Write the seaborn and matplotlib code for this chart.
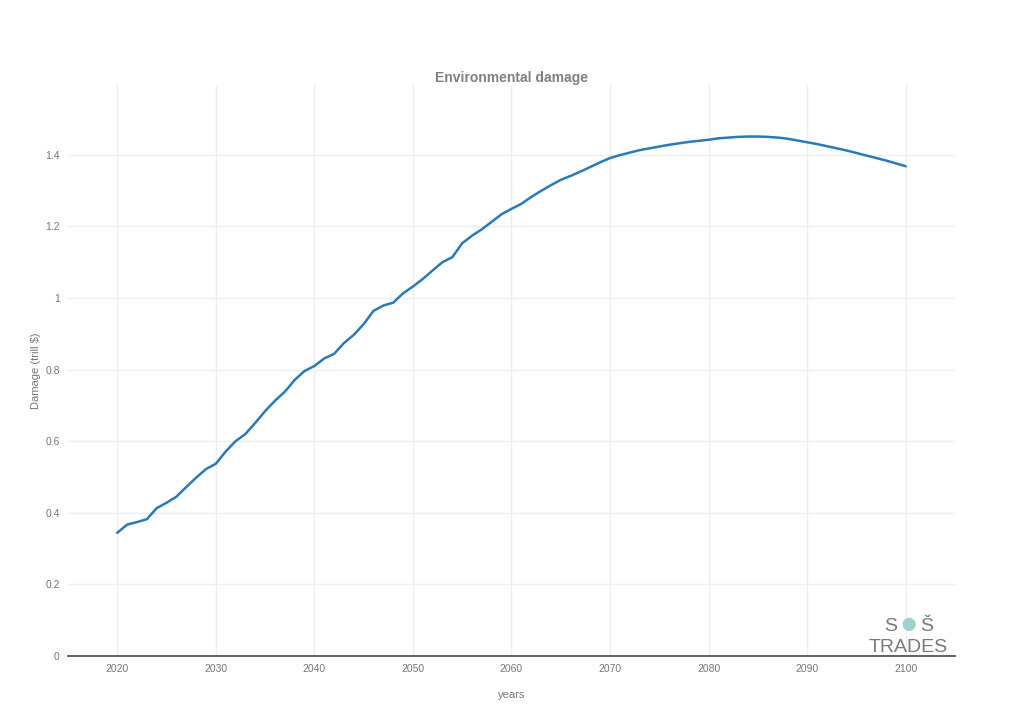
import pandas as pd
import matplotlib.pyplot as plt
import seaborn as sns

years = list(range(2020, 2101))
damage = [0.344, 0.367, 0.374, 0.382, 0.413, 0.428, 0.445, 0.472, 0.498, 0.522,
          0.537, 0.571, 0.600, 0.620, 0.651, 0.684, 0.713, 0.738, 0.771, 0.796,
          0.810, 0.831, 0.844, 0.874, 0.897, 0.927, 0.964, 0.979, 0.987, 1.013,
          1.032, 1.053, 1.077, 1.100, 1.114, 1.153, 1.174, 1.192, 1.213, 1.234,
          1.249, 1.263, 1.282, 1.299, 1.315, 1.330, 1.341, 1.353, 1.366, 1.379,
          1.391, 1.399, 1.406, 1.413, 1.418, 1.423, 1.428, 1.432, 1.436, 1.439,
          1.442, 1.446, 1.448, 1.450, 1.451, 1.451, 1.450, 1.448, 1.445, 1.440,
          1.435, 1.430, 1.424, 1.418, 1.412, 1.405, 1.398, 1.391, 1.384, 1.376,
          1.368]
xticks = list(range(2020, 2101, 10))
yticks = [0, 0.2, 0.4, 0.6, 0.8, 1.0, 1.2, 1.4]
ytick_labels = ['0', '0.2', '0.4', '0.6', '0.8', '1', '1.2', '1.4']

df = pd.DataFrame({'years': years, 'damage': damage})

sns.set_style('white')
plt.rcParams['font.family'] = ['Liberation Sans', 'DejaVu Sans']

fig = plt.figure(figsize=(10.24, 7.25), dpi=100)
ax = fig.add_axes([0.0664, 0.0952, 0.8662, 0.7876])

sns.lineplot(data=df, x='years', y='damage', color='#2a7ab8', linewidth=1.8, ax=ax)

ax.set_xlim(2015, 2105)
ax.set_ylim(0, 1.595)
ax.set_xticks(xticks)
ax.set_yticks(yticks)
ax.set_yticklabels(ytick_labels)
ax.tick_params(axis='both', labelsize=7.5, labelcolor='#777777', length=0, pad=6)
ax.grid(True, color='#eeeeee', linewidth=1)
for s in ['top', 'right', 'left']:
    ax.spines[s].set_visible(False)
ax.spines['bottom'].set_color('#555555')
ax.spines['bottom'].set_linewidth(1.3)

ax.set_title('Environmental damage', fontsize=10, fontweight='bold', color='#808080', pad=2)
ax.set_xlabel('years', fontsize=8, color='#777777', labelpad=11)
ax.set_ylabel('Damage (trill $)', fontsize=8, color='#777777', labelpad=3)

# SoS Trades logo approximation
fig.text(0.870, 0.136, 'S', fontsize=14, color='#7a7a7a', ha='center', va='center')
fig.text(0.8875, 0.138, '\u25cf', fontsize=22, color='#9fd0cc', ha='center', va='center')
fig.text(0.905, 0.136, 'Š', fontsize=14, color='#7a7a7a', ha='center', va='center')
fig.text(0.887, 0.1075, 'TRADES', fontsize=14, color='#7a7a7a', ha='center', va='center')

plt.savefig('out.png', dpi=100)
